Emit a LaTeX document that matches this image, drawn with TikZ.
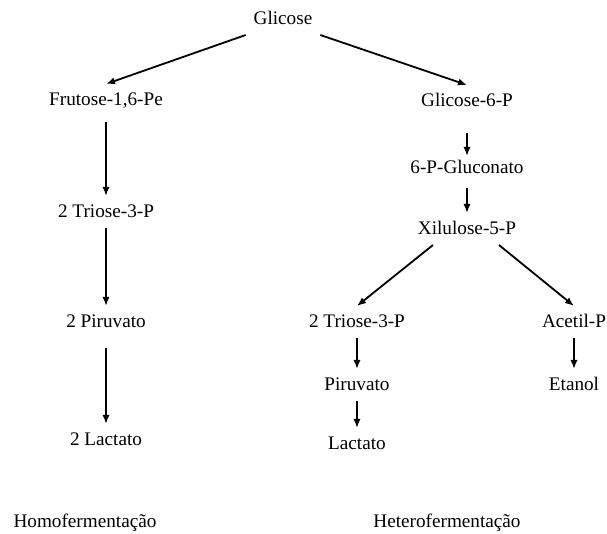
\documentclass[tikz,border=0pt]{standalone}
\usepackage{fontspec}
\setmainfont{Liberation Serif}
\usepackage{tikz}
\usetikzlibrary{arrows.meta}

\begin{document}
\begin{tikzpicture}[x=0.5pt, y=-0.5pt, >={Latex[length=4.5pt,width=3.6pt]},
  etapa/.style={anchor=base, inner sep=0pt, outer sep=4pt, text height=7pt, text depth=1pt,
    font=\fontsize{9.6}{11}\selectfont},
  seta/.style={->, line width=0.9pt}]
  \useasboundingbox (0,0) rectangle (607,534);

  % Início
  \node[etapa] (glicose) at (283,25) {Glicose};

  % Via homofermentativa
  \node[etapa] (frutose) at (106,106) {Frutose-1,6-Pe};
  \node[etapa] (triose) at (106,218) {2 Triose-3-P};
  \node[etapa] (piruvato) at (106,328) {2 Piruvato};
  \node[etapa] (lactato) at (106,446) {2 Lactato};

  % Via heterofermentativa
  \node[etapa] (g6p) at (467,107) {Glicose-6-P};
  \node[etapa] (gluconato) at (467,174) {6-P-Gluconato};
  \node[etapa] (xilulose) at (467,235) {Xilulose-5-P};
  \node[etapa] (triose2) at (357,328) {2 Triose-3-P};
  \node[etapa] (acetil) at (574,328) {Acetil-P};
  \node[etapa] (piruvato2) at (357,391) {Piruvato};
  \node[etapa] (etanol) at (574,391) {Etanol};
  \node[etapa] (lactato2) at (357,450) {Lactato};

  % Setas
  \draw[seta] (glicose.south west) -- (frutose.north);
  \draw[seta] (glicose.south east) -- (g6p.north);
  \draw[seta, shorten <=3pt] (frutose.south) -- (triose.north);
  \draw[seta] (triose.south) -- (piruvato.north);
  \draw[seta, shorten <=5pt] (piruvato.south) -- (lactato.north);
  \draw[seta, shorten <=8pt, shorten >=-2pt] (g6p.south) -- (gluconato.north);
  \draw[seta, shorten <=2pt] (gluconato.south) -- (xilulose.north);
  \draw[seta] ([xshift=-17pt]xilulose.south) -- (triose2.north);
  \draw[seta] ([xshift=16pt]xilulose.south) -- (acetil.north);
  \draw[seta] (triose2.south) -- (piruvato2.north);
  \draw[seta] (piruvato2.south) -- (lactato2.north);
  \draw[seta] (acetil.south) -- (etanol.north);

  % Rótulos
  \node[etapa] (homo) at (85,528) {Homofermentação};
  \node[etapa] (hetero) at (447,528) {Heterofermentação};
\end{tikzpicture}
\end{document}
